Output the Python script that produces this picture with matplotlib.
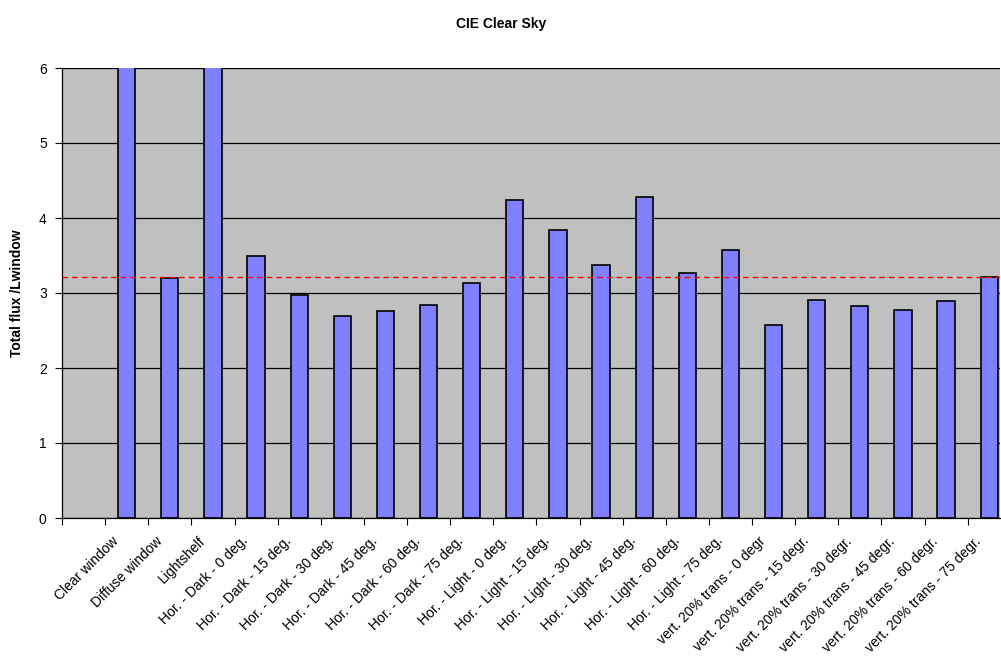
import numpy as np
import matplotlib.pyplot as plt
from matplotlib.transforms import ScaledTranslation

plt.rcParams['font.family'] = ['Liberation Sans', 'DejaVu Sans']

categories = [
    "Clear window", "Diffuse window", "Lightshelf",
    "Hor. - Dark - 0 deg.", "Hor. - Dark - 15 deg.", "Hor. - Dark - 30 deg.",
    "Hor. - Dark - 45 deg.", "Hor. - Dark - 60 deg.", "Hor. - Dark - 75 deg.",
    "Hor. - Light - 0 deg.", "Hor. - Light - 15 deg.", "Hor. - Light - 30 deg.",
    "Hor. - Light - 45 deg.", "Hor. - Light - 60 deg.", "Hor. - Light - 75 deg.",
    "vert. 20% trans - 0 degr", "vert. 20% trans - 15 degr.", "vert. 20% trans - 30 degr.",
    "vert. 20% trans - 45 degr.", "vert. 20% trans - 60 degr.", "vert. 20% trans - 75 degr.",
]
flux = [7.5, 3.20, 7.0, 3.50, 2.98, 2.69, 2.76, 2.84, 3.14, 4.24, 3.84, 3.38,
        4.28, 3.27, 3.57, 2.58, 2.91, 2.83, 2.77, 2.90, 3.22]
ref_level = 3.21

fig = plt.figure(figsize=(10.01, 6.66), dpi=100)
ax = fig.add_axes([62 / 1001, 148 / 666, 938 / 1001, 450 / 666])
ax.set_facecolor('#c0c0c0')

x = np.arange(len(categories))
ax.bar(x, flux, width=0.4, color='#8080ff', edgecolor='black', linewidth=1.2, zorder=2)
ax.axhline(ref_level, color='#ff0000', linestyle=(0, (4, 3)), linewidth=1.0, zorder=3)

ax.set_ylim(0, 6)
ax.set_xlim(-1.5, 20.25)
ax.set_axisbelow(True)
ax.yaxis.grid(True, color='black', linewidth=0.9)

# boundary ticks on the category axis, labels placed separately
ax.set_xticks(np.arange(-1.5, 20.0, 1.0))
ax.set_xticklabels([])
ax.tick_params(axis='x', which='major', direction='out', length=5, width=0.8)
ax.set_xticks(x, minor=True)
ax.set_xticklabels(categories, minor=True, rotation=45, ha='right', va='center',
                   rotation_mode='anchor', fontsize=10)
ax.tick_params(axis='x', which='minor', length=0, pad=15)
offset = ScaledTranslation(-10 / 100, 0, fig.dpi_scale_trans)
for lab in ax.get_xticklabels(minor=True):
    lab.set_transform(lab.get_transform() + offset)

ax.set_yticks(range(7))
ax.tick_params(axis='y', direction='out', length=5, width=0.8, pad=6, labelsize=10)

for side in ['top', 'right']:
    ax.spines[side].set_visible(False)
ax.spines['left'].set_linewidth(0.9)
ax.spines['bottom'].set_linewidth(0.9)

fig.text(501 / 1001, 1 - 24 / 666, "CIE Clear Sky", ha='center', va='center',
         fontsize=10, fontweight='bold')
fig.text(17 / 1001, 1 - 293 / 666, "Total flux /Lwindow", ha='center', va='center',
         rotation=90, fontsize=10, fontweight='bold')

fig.savefig('out.png', dpi=100)
